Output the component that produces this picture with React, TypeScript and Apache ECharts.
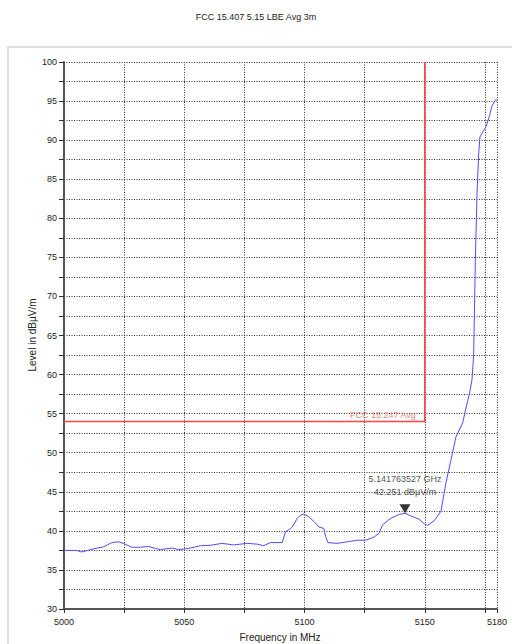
import React, { useEffect, useRef } from "react";
import * as echarts from "echarts";

// Measured trace: frequency (MHz) and level (dBµV/m)
const freqMHz = [
  5000, 5005, 5007.4, 5010, 5012.2, 5016.4, 5019.9, 5022.6, 5024.7, 5028.2,
  5031.7, 5035.1, 5040, 5044.9, 5047.6, 5050.4, 5052.5, 5056.7, 5060.8, 5065.7,
  5070.5, 5076.1, 5080.3, 5083, 5085.8, 5090.7, 5092.1, 5094.2, 5094.9, 5097,
  5098.3, 5099.7, 5101.8, 5103.9, 5106, 5108, 5108.75, 5109.7, 5113.6, 5117.8,
  5122, 5125.4, 5128.9, 5131, 5132.4, 5135.8, 5139.3, 5141.76, 5144.2, 5147.6,
  5149.7, 5151.1, 5153.9, 5156.7, 5158, 5158.75, 5160.8, 5162.9, 5165.7, 5167.1,
  5168.5, 5169.6, 5170.3, 5171, 5171.7, 5172.4, 5172.9, 5174, 5175.4, 5176.8,
  5177.8, 5178.9, 5179.6, 5180,
];
const levelDb = [
  37.5, 37.5, 37.3, 37.5, 37.7, 37.95, 38.5, 38.6, 38.4, 37.9,
  37.9, 38.0, 37.6, 37.8, 37.6, 37.7, 37.8, 38.1, 38.15, 38.4,
  38.2, 38.4, 38.3, 38.1, 38.5, 38.5, 39.9, 40.3, 40.5, 41.6,
  42.0, 42.15, 41.8, 41.2, 40.5, 40.3, 39.3, 38.5, 38.4, 38.6,
  38.8, 38.8, 39.2, 39.7, 40.75, 41.6, 42.1, 42.25, 41.9, 41.5,
  40.9, 40.7, 41.3, 42.5, 44.8, 46.1, 49.0, 52.0, 53.8, 55.7,
  57.5, 59.3, 62.5, 74.7, 83.2, 88.3, 90.4, 91.0, 91.7, 93.0,
  94.3, 94.9, 95.2, 95.05,
];

// Limit line FCC 15.247 Avg
const limitFreq = [5000, 5150, 5150];
const limitLevel = [54, 54, 100];
const limitName = "FCC 15.247 Avg";

// Peak marker
const markerFreqMHz = 5141.763527;
const markerLevel = 42.251;

const xLabelValues = [5000, 5050, 5100, 5150, 5180];
const titleText = "FCC 15.407 5.15 LBE Avg 3m";
const xName = "Frequency in MHz";
const yName = "Level in dBµV/m";

const FONT = "'Liberation Sans', Arial, sans-serif";

export default function App() {
  const ref = useRef<HTMLDivElement>(null);

  useEffect(() => {
    if (!ref.current) return;
    const chart = echarts.init(ref.current, null, { renderer: "svg" });

    const trace = freqMHz.map((f, i) => [f, levelDb[i]]);
    const limit = limitFreq.map((f, i) => [f, limitLevel[i]]);
    const gridLine = { show: true, lineStyle: { color: "#333", type: [1, 1.5], width: 1 } };

    chart.setOption({
      animation: false,
      backgroundColor: "#ffffff",
      textStyle: { fontFamily: FONT },
      title: {
        text: titleText,
        left: "center",
        top: 7,
        textStyle: { fontSize: 9, fontWeight: "normal", color: "#222", fontFamily: FONT },
      },
      graphic: [
        {
          type: "rect",
          z: -10,
          silent: true,
          shape: { x: 8, y: 47, width: 520, height: 620 },
          style: { fill: "none", stroke: "#dedede", lineWidth: 2 },
        },
        {
          type: "text",
          x: 32,
          y: 335,
          rotation: Math.PI / 2,
          style: {
            text: yName,
            fontSize: 10,
            fontFamily: FONT,
            fill: "#222",
            align: "center",
            verticalAlign: "middle",
          },
        },
        {
          type: "text",
          x: 280,
          y: 637,
          style: {
            text: xName,
            fontSize: 10,
            fontFamily: FONT,
            fill: "#222",
            align: "center",
            verticalAlign: "middle",
          },
        },
      ],
      grid: { left: 64, right: 15, top: 62, bottom: 35, containLabel: false },
      xAxis: {
        type: "value",
        min: 5000,
        max: 5180,
        interval: 25,
        axisLine: { show: true, lineStyle: { color: "#555", width: 2 } },
        axisTick: { show: true, length: 4, lineStyle: { color: "#333" } },
        axisLabel: {
          fontSize: 9,
          color: "#222",
          fontFamily: FONT,
          margin: 8,
          hideOverlap: false,
          showMaxLabel: true,
          formatter: (v: number) => (xLabelValues.includes(v) ? String(v) : ""),
        },
        splitLine: gridLine,
      },
      yAxis: {
        type: "value",
        min: 30,
        max: 100,
        interval: 2.5,
        axisLine: { show: true, lineStyle: { color: "#555", width: 2 } },
        axisTick: { show: true, length: 5, lineStyle: { color: "#333" } },
        axisLabel: {
          fontSize: 9,
          color: "#222",
          fontFamily: FONT,
          margin: 7,
          formatter: (v: number) => (v % 5 === 0 ? String(v) : ""),
        },
        splitLine: gridLine,
      },
      series: [
        {
          name: limitName,
          type: "line",
          data: limit,
          symbol: "none",
          lineStyle: { color: "#ff4444", width: 1.6 },
          z: 3,
        },
        {
          type: "scatter",
          data: [[limitFreq[1], limitLevel[1]]],
          symbolSize: 0,
          silent: true,
          label: {
            show: true,
            position: "left",
            distance: 9,
            offset: [0, -6],
            formatter: limitName,
            fontSize: 9,
            color: "#f06060",
            fontFamily: FONT,
          },
          z: 4,
        },
        {
          name: "Level",
          type: "line",
          data: trace,
          symbol: "none",
          lineStyle: { color: "#4d4dff", width: 1 },
          z: 5,
        },
        {
          type: "scatter",
          data: [[markerFreqMHz, markerLevel]],
          symbol: "triangle",
          symbolRotate: 180,
          symbolSize: [11, 9],
          symbolOffset: [0, -4.5],
          itemStyle: { color: "#000" },
          label: {
            show: true,
            position: "top",
            distance: 6,
            formatter: `${(markerFreqMHz / 1000).toFixed(9)} GHz\n${markerLevel.toFixed(3)} dBµV/m`,
            fontSize: 9,
            lineHeight: 13,
            color: "#222",
            fontFamily: FONT,
            align: "center",
          },
          z: 6,
        },
      ],
    });

    return () => chart.dispose();
  }, []);

  return (
    <div
      ref={ref}
      style={{ position: "fixed", left: 0, top: 0, width: 512, height: 644 }}
    />
  );
}
